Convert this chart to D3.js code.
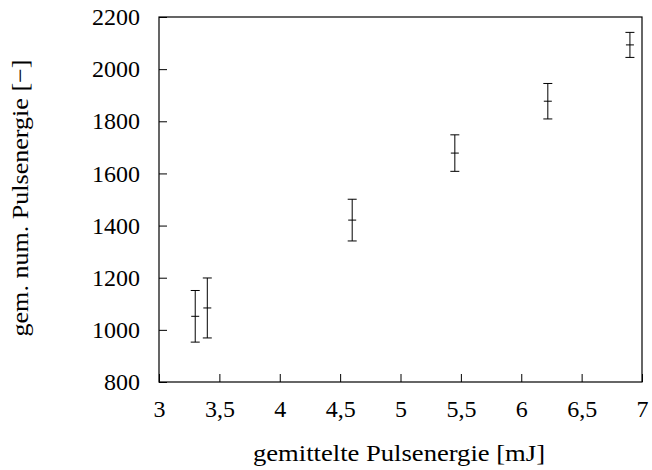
<!DOCTYPE html>
<html>
<head>
<meta charset="utf-8">
<script src="https://cdn.jsdelivr.net/npm/d3@7"></script>
<style>
  html, body { margin: 0; padding: 0; background: #fff; }
  svg { display: block; }
  text { font-family: "Liberation Serif", "DejaVu Serif", serif; fill: #000; }
</style>
</head>
<body>
<svg id="chart" width="652" height="470"></svg>
<script>
// Measured mean pulse energy [mJ] vs. numerically averaged pulse energy
const energy   = [3.30, 3.40, 4.60, 5.45, 6.22, 6.90];
const numValue = [1052, 1084, 1421, 1678, 1877, 2093];
const errValue = [99, 115, 80, 70, 68, 48];

const xTicks = [3, 3.5, 4, 4.5, 5, 5.5, 6, 6.5, 7];
const yTicks = [800, 1000, 1200, 1400, 1600, 1800, 2000, 2200];

const xLabel = "gemittelte Pulsenergie [mJ]";
const yLabel = "gem. num. Pulsenergie [−]";

const svg = d3.select("#chart");
const plotL = 159, plotR = 642, plotT = 17, plotB = 382;

const x = d3.scaleLinear().domain([3, 7]).range([plotL, plotR]);
const y = d3.scaleLinear().domain([800, 2200]).range([plotB, plotT]);

const fmtX = d => String(d).replace(".", ",");
const fmtY = d => String(d);

// Frame
svg.append("rect")
  .attr("x", plotL).attr("y", plotT)
  .attr("width", plotR - plotL).attr("height", plotB - plotT)
  .attr("fill", "none").attr("stroke", "#000").attr("stroke-width", 1.2);

// Axes with inward ticks
const xAxis = svg.append("g").attr("transform", `translate(0,${plotB})`)
  .call(d3.axisBottom(x).tickValues(xTicks).tickFormat(fmtX).tickSizeInner(-8).tickSizeOuter(0).tickPadding(18));
const yAxis = svg.append("g").attr("transform", `translate(${plotL},0)`)
  .call(d3.axisLeft(y).tickValues(yTicks).tickFormat(fmtY).tickSizeInner(-8).tickSizeOuter(0).tickPadding(19));

[xAxis, yAxis].forEach(a => {
  a.select(".domain").remove();
  a.selectAll(".tick line").attr("stroke", "#000").attr("stroke-width", 1);
  a.selectAll(".tick text").style("font-size", "24px").style("font-family", "'Liberation Serif', serif");
});

// Error bars
const g = svg.append("g").attr("stroke", "#000").attr("stroke-width", 1);
energy.forEach((e, i) => {
  const cx = x(e);
  const lo = y(numValue[i] - errValue[i]);
  const hi = y(numValue[i] + errValue[i]);
  const cy = y(numValue[i]);
  g.append("line").attr("x1", cx).attr("x2", cx).attr("y1", lo).attr("y2", hi);
  g.append("line").attr("x1", cx - 4.5).attr("x2", cx + 4.5).attr("y1", lo).attr("y2", lo);
  g.append("line").attr("x1", cx - 4.5).attr("x2", cx + 4.5).attr("y1", hi).attr("y2", hi);
  g.append("line").attr("x1", cx - 4).attr("x2", cx + 4).attr("y1", cy).attr("y2", cy);
});

// Axis titles
svg.append("text")
  .attr("x", 399).attr("y", 461)
  .attr("text-anchor", "middle").style("font-size", "24px")
  .attr("textLength", 292).attr("lengthAdjust", "spacingAndGlyphs")
  .text(xLabel);

svg.append("text")
  .attr("transform", `translate(28,198) rotate(-90)`)
  .attr("text-anchor", "middle").style("font-size", "24px")
  .attr("textLength", 277).attr("lengthAdjust", "spacingAndGlyphs")
  .text(yLabel);
</script>
</body>
</html>
